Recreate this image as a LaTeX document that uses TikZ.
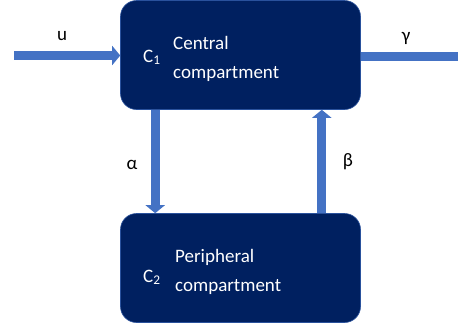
\documentclass[tikz,border=0pt]{standalone}
\usepackage{fontspec}
\setmainfont{Carlito}
\usetikzlibrary{arrows.meta,positioning}
\definecolor{navy}{HTML}{002060}
\definecolor{flowblue}{HTML}{4472C4}

\tikzset{
  compartment/.style={draw=flowblue!60!navy, line width=0.6pt, fill=navy, rounded corners=16pt,
    inner sep=0pt, minimum width=240pt, minimum height=109pt},
  txt/.style={text=white, inner sep=0pt, align=left, font=\fontsize{19}{29}\selectfont},
  lbl/.style={text=black, inner sep=0pt, font=\fontsize{19}{23}\selectfont},
  flow/.style={draw=flowblue, line width=9pt, -{Triangle[width=19pt,length=8pt]}},
  plainflow/.style={draw=flowblue, line width=9pt}
}

\begin{document}
\begin{tikzpicture}[x=1pt,y=-1pt]
\useasboundingbox (0,0) rectangle (458,327);

\node[compartment] (c1) at (240.5,55) {};
\node[compartment] (c2) at (240.5,268) {};

\node[txt, anchor=base west] (k1) at (143,62) {C\textsubscript{1}};
\node[txt, anchor=west] (t1) at (173,58.5) {Central\\compartment};
\node[txt, anchor=base west] (k2) at (143,282) {C\textsubscript{2}};
\node[txt, anchor=west] (t2) at (175,272) {Peripheral\\compartment};

\coordinate (in) at (14,55.5);
\coordinate (out) at (458,56.5);

\draw[flow] (in) -- (c1.west |- in);
\draw[plainflow] (c1.east |- out) -- (out);
\draw[flow] ([xshift=35pt]c1.south west) -- ([xshift=35pt]c2.north west);
\draw[flow] ([xshift=-39pt]c2.north east) -- ([xshift=-39pt]c1.south east);

\node[lbl] (u) at (62,36) {u};
\node[lbl] (g) at (406,38) {γ};
\node[lbl] (a) at (132,165) {α};
\node[lbl] (b) at (348,162) {β};
\end{tikzpicture}
\end{document}
